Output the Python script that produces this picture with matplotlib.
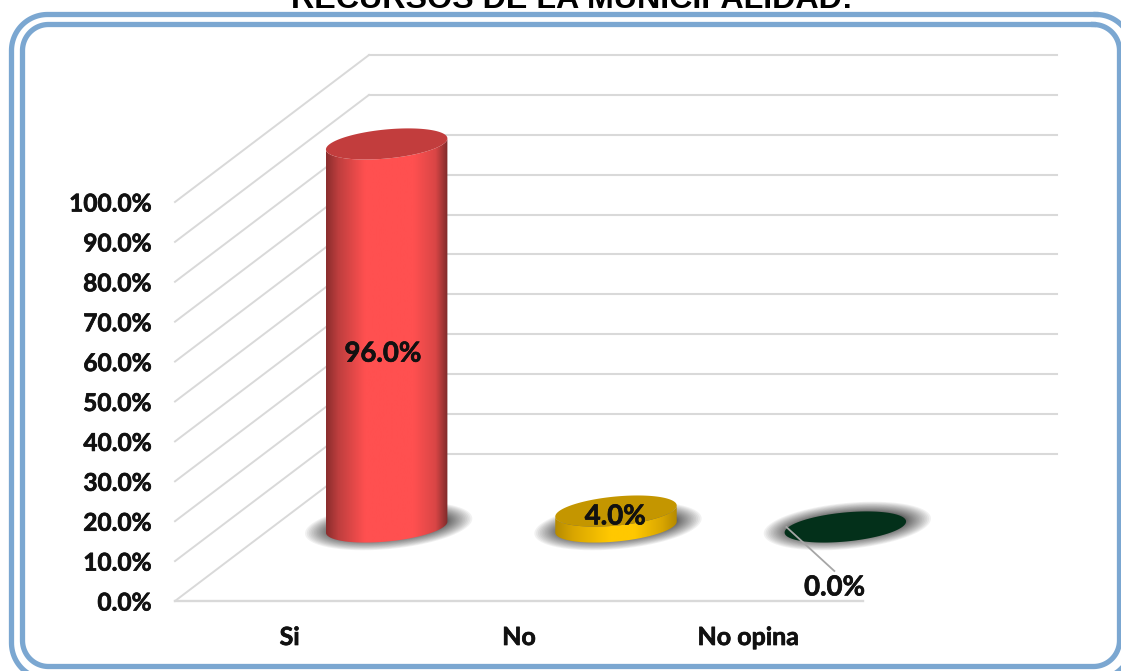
import numpy as np
import matplotlib
matplotlib.use("Agg")
import matplotlib.pyplot as plt
import matplotlib.patheffects as pe
from matplotlib.patches import Polygon
from matplotlib.colors import LinearSegmentedColormap

categories = ["Si", "No", "No opina"]
values = [96.0, 4.0, 0.0]
value_labels = ["96.0%", "4.0%", "0.0%"]
yticks = [0, 10, 20, 30, 40, 50, 60, 70, 80, 90, 100]
title = "RECURSOS DE LA MUNICIPALIDAD:"

W, H = 1121, 671
fig = plt.figure(figsize=(W / 100, H / 100), dpi=100, facecolor="white")

# frame overlay in pixels
bg = fig.add_axes([0, 0, 1, 1])
bg.set_xlim(0, W); bg.set_ylim(H, 0); bg.axis("off")
BLUE = "#7BA7D1"


def rounded(x0, y0, x1, y1, r):
    pts = []
    for cx, cy, a0 in [(x1 - r, y0 + r, -90), (x1 - r, y1 - r, 0), (x0 + r, y1 - r, 90), (x0 + r, y0 + r, 180)]:
        a = np.radians(np.linspace(a0, a0 + 90, 30))
        pts.append(np.column_stack([cx + r * np.cos(a), cy + r * np.sin(a)]))
    pts = np.vstack(pts)
    return np.vstack([pts, pts[:1]])


for (x0, y0, x1, y1, r) in [(11.5, 14.5, 1132, 679, 36), (22.5, 24.5, 1119.5, 666.5, 26)]:
    p = rounded(x0, y0, x1, y1, r)
    bg.plot(p[:, 0], p[:, 1], color=BLUE, lw=3.8, solid_joinstyle="round")
bg.text(571.5, 8, title, ha="center", va="baseline", fontsize=23.2,
        fontweight="bold", family="Liberation Sans", color="black")

# front plane of the 3D chart
L, R, B, T = 175, 863, 601, 202
ymax = 120
ax = fig.add_axes([L / W, 1 - B / H, (R - L) / W, (B - T) * ymax / 100 / H])
ax.set_xlim(-0.5, 2.5); ax.set_ylim(0, ymax)
ax.patch.set_alpha(0)
for s in ax.spines.values():
    s.set_visible(False)
ax.tick_params(length=0)
sx = (R - L) / 3.0      # px per category
sy = (B - T) / 100.0    # px per percent
depth_x, depth_y = 194 / sx, 147 / sy
GRID = "#D9D9D9"
right_back = 2.5 + depth_x

for v in yticks:
    ax.plot([-0.5, -0.5 + depth_x], [v, v + depth_y], color=GRID, lw=1.4, clip_on=False, zorder=1)
    ax.plot([-0.5 + depth_x, right_back], [v + depth_y] * 2, color=GRID, lw=1.5, clip_on=False, zorder=1)
ax.plot([-0.5, 2.5], [0, 0], color=GRID, lw=1.7, clip_on=False, zorder=1)

heavy = [pe.withStroke(linewidth=0.5, foreground="#111111")]
ax.set_yticks(yticks)
ax.set_yticklabels([f"{v:.1f}%" for v in yticks], fontsize=17.6, fontweight="bold",
                   family="Lato", color="#111111", path_effects=heavy)
ax.tick_params(axis="y", pad=17)
ax.set_xticks(range(3))
ax.set_xticklabels(categories, fontsize=18, fontweight="bold", family="Lato",
                   color="#111111", path_effects=heavy)
ax.tick_params(axis="x", pad=18)

# cylinder geometry
mid_x, mid_y = 97 / sx, 74 / sy
RX, RY, TILT = 61.0, 14.5, np.radians(5.5)


def ellipse(cx, cy, rx=RX, ry=RY, t=None):
    t = np.linspace(0, 2 * np.pi, 160) if t is None else t
    px = rx * np.cos(t) * np.cos(TILT) - ry * np.sin(t) * np.sin(TILT)
    py = rx * np.cos(t) * np.sin(TILT) + ry * np.sin(t) * np.cos(TILT)
    return np.column_stack([cx + px / sx, cy + py / sy])


def shadow(cx, cy):
    n = 20
    for i in range(n):
        f = (1 - i / (n - 1)) ** 1.5
        ax.add_patch(Polygon(ellipse(cx + 2 / sx, cy + 1 / sy, 60 + 24 * f, 13 + 10 * f),
                             closed=True, fc="#404040", ec="none",
                             alpha=0.07, zorder=2, clip_on=False))


def body(cx, base, top, stops):
    cmap = LinearSegmentedColormap.from_list("c", stops)
    hw = RX / sx
    lo = ellipse(cx, base, t=np.linspace(np.pi, 2 * np.pi, 80))
    hi = ellipse(cx, top, t=np.linspace(2 * np.pi, np.pi, 80))
    outline = np.vstack([lo, hi])
    grad = np.linspace(0, 1, 256)[None, :]
    ymin, ymax_ = outline[:, 1].min(), outline[:, 1].max()
    im = ax.imshow(grad, extent=[cx - hw, cx + hw, ymin, ymax_], cmap=cmap,
                   aspect="auto", zorder=3)
    im.set_clip_path(Polygon(outline, closed=True, transform=ax.transData))


REDS = [(0, "#8A2D2D"), (0.1, "#BE3E3E"), (0.32, "#FF5050"), (0.72, "#FF5050"), (0.9, "#D94646"), (1, "#7E2A2A")]
GOLD = [(0, "#B58A00"), (0.15, "#D9A600"), (0.45, "#FFC800"), (0.65, "#FFC800"), (0.88, "#D9A600"), (1, "#B58A00")]
styles = [
    dict(grad=REDS, cap="#C23D3D"),
    dict(grad=GOLD, cap="#C49600"),
    dict(grad=None, cap="#03301A"),
]

for i, (v, st) in enumerate(zip(values, styles)):
    cx = i + mid_x
    base = mid_y
    top = base + v
    shadow(cx, base)
    if st["grad"] is not None and v > 0:
        body(cx, base, top, st["grad"])
    ax.add_patch(Polygon(ellipse(cx, top), closed=True, fc=st["cap"], ec="none",
                         zorder=4, clip_on=False))

ax.set_xlim(-0.5, 2.5); ax.set_ylim(0, ymax)

lab = dict(fontweight="bold", family="Lato", color="#111111", zorder=6, ha="center",
           va="center", path_effects=heavy)
ax.text(0 + mid_x - 4 / sx, 62.0, value_labels[0], fontsize=19.8, **lab)
ax.text(1 + mid_x - 1 / sx, 21.2, value_labels[1], fontsize=19.8, **lab)
ax.text(2 + mid_x - 11 / sx, 3.4, value_labels[2], fontsize=19.8, **lab)
# leader line of the 0 % label
ax.plot([2 + mid_x - 59 / sx, 2 + mid_x - 11 / sx], [mid_y - 0 / sy, mid_y - 44 / sy],
        color="#A6A6A6", lw=1.3, zorder=5, clip_on=False)

fig.savefig("out.png", dpi=100)
